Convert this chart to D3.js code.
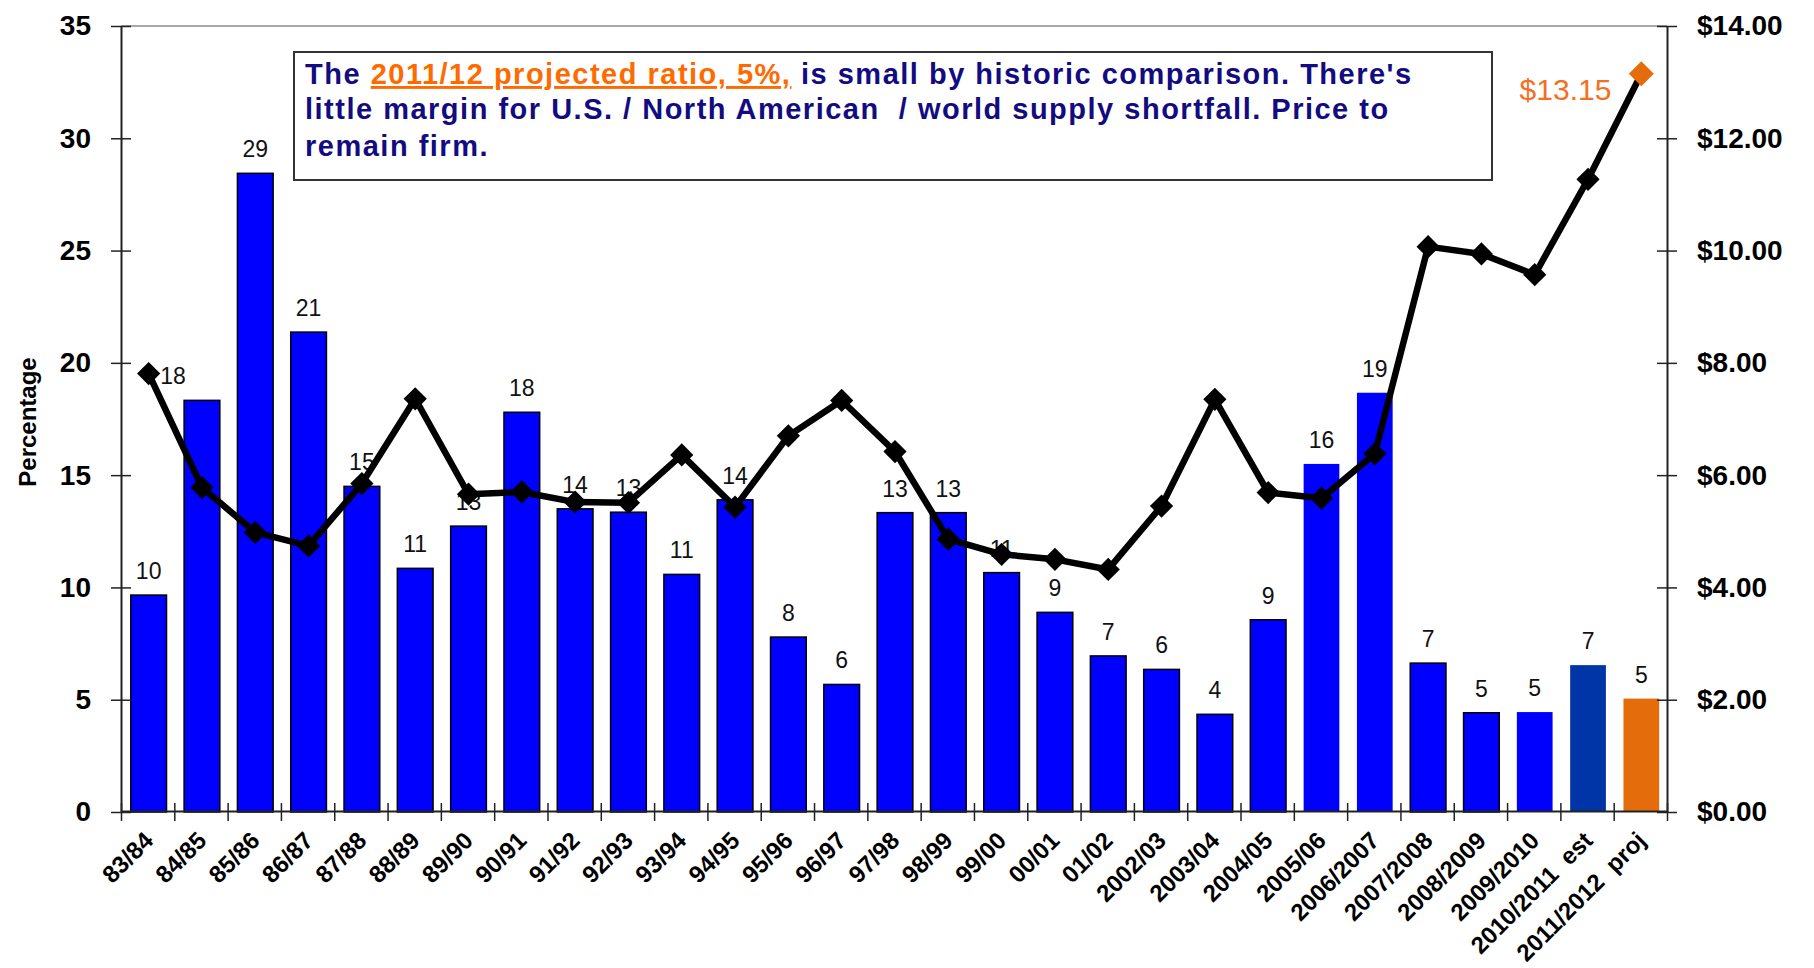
<!DOCTYPE html>
<html lang="en">
<head>
<meta charset="UTF-8">
<title>Stocks-to-use ratio and price</title>
<script src="https://d3js.org/d3.v7.min.js"></script>
<style>
  body { margin: 0; background: #fff; }
  svg { display: block; font-family: "Liberation Sans", Arial, sans-serif; }
</style>
</head>
<body>
<div id="chart"></div>
<script>
// season labels along the bottom
const categories = ["83/84", "84/85", "85/86", "86/87", "87/88", "88/89", "89/90", "90/91",
  "91/92", "92/93", "93/94", "94/95", "95/96", "96/97", "97/98", "98/99", "99/00", "00/01",
  "01/02", "2002/03", "2003/04", "2004/05", "2005/06", "2006/2007", "2007/2008", "2008/2009",
  "2009/2010", "2010/2011  est", "2011/2012  proj"];

// ratio bars (left axis, percent) and their printed labels
const ratio = [9.66, 18.33, 28.44, 21.37, 14.5, 10.85, 12.73, 17.8, 13.5, 13.35, 10.58, 13.9,
  7.79, 5.68, 13.33, 13.33, 10.66, 8.89, 6.95, 6.35, 4.35, 8.56, 15.5, 18.67, 6.63, 4.42,
  4.45, 6.54, 5.05];
const ratioLabels = ["10", "18", "29", "21", "15", "11", "13", "18", "14", "13", "11", "14",
  "8", "6", "13", "13", "11", "9", "7", "6", "4", "9", "16", "19", "7", "5", "5", "7", "5"];

// price line (right axis, $)
const price = [7.81, 5.78, 4.98, 4.74, 5.85, 7.36, 5.66, 5.70, 5.52, 5.51, 6.36, 5.43,
  6.70, 7.33, 6.42, 4.86, 4.59, 4.50, 4.32, 5.45, 7.35, 5.69, 5.59, 6.38, 10.07, 9.94,
  9.57, 11.27, 13.15];

// kind of season: actual / estimate / projection
const seasonKind = ["actual", "actual", "actual", "actual", "actual", "actual", "actual",
  "actual", "actual", "actual", "actual", "actual", "actual", "actual", "actual", "actual",
  "actual", "actual", "actual", "actual", "actual", "actual", "actual", "actual", "actual",
  "actual", "actual", "est", "proj"];

const leftTicks = [0, 5, 10, 15, 20, 25, 30, 35];
const rightTicks = [0, 2, 4, 6, 8, 10, 12, 14];

const noteLines = [
  [["The ", false], ["2011/12 projected ratio, 5%,", true], [" is small by historic comparison. There's", false]],
  [["little margin for U.S. / North American  / world supply shortfall. Price to", false]],
  [["remain firm.", false]]
];

// ---- layout
const width = 1814, height = 968;
const plotLeft = 121, plotRight = 1667, plotTop = 26, plotBottom = 812;

const svg = d3.select("#chart").append("svg")
  .attr("width", width)
  .attr("height", height);

const x = d3.scaleBand().domain(categories).range([plotLeft, plotRight])
  .paddingInner(0.33).paddingOuter(0.165);
const slots = d3.scaleLinear().domain([0, categories.length]).range([plotLeft, plotRight]);
const y = d3.scaleLinear().domain([0, 35]).range([plotBottom, plotTop]);
const yPrice = d3.scaleLinear().domain([0, 14]).range([plotBottom, plotTop]);

const kindColor = d3.scaleOrdinal()
  .domain(["actual", "est", "proj"])
  .range(["#0000ff", "#0035a8", "#e46c0a"]);
// these bars were drawn without a black edge
const noOutline = new Set(["2005/06", "2006/2007", "2009/2010", "2010/2011  est", "2011/2012  proj"]);

// top border of plot area
svg.append("line")
  .attr("x1", plotLeft).attr("x2", plotRight)
  .attr("y1", plotTop).attr("y2", plotTop)
  .attr("stroke", "#8a8a8a").attr("stroke-width", 1.5);

// bars
svg.append("g").selectAll("rect")
  .data(categories)
  .join("rect")
    .attr("x", d => x(d) + 1)
    .attr("y", (d, i) => y(ratio[i]))
    .attr("width", x.bandwidth())
    .attr("height", (d, i) => plotBottom - y(ratio[i]))
    .attr("fill", (d, i) => kindColor(seasonKind[i]))
    .attr("stroke", d => noOutline.has(d) ? "none" : "#000")
    .attr("stroke-width", 1.5);

// bar value labels
svg.append("g").selectAll("text")
  .data(categories)
  .join("text")
    .attr("x", (d, i) => x(d) + 1 + x.bandwidth() / 2 + (i === 1 ? -29 : 0))
    .attr("y", (d, i) => y(ratio[i]) - 16)
    .attr("text-anchor", "middle")
    .attr("font-size", 23)
    .attr("fill", "#111")
    .text((d, i) => ratioLabels[i]);

// left axis
const gLeft = svg.append("g")
  .attr("transform", `translate(${plotLeft},0)`)
  .call(d3.axisLeft(y).tickValues(leftTicks).tickSize(10).tickSizeOuter(0).tickPadding(20));
gLeft.select(".domain").attr("stroke", "#222").attr("stroke-width", 2);
gLeft.selectAll(".tick line").attr("x1", 10).attr("x2", -10).attr("stroke", "#222").attr("stroke-width", 1.5);
gLeft.selectAll(".tick text").attr("font-size", 28).attr("font-weight", "bold")
  .attr("font-family", "'Liberation Sans', Arial, sans-serif").attr("fill", "#000");

// right axis
const gRight = svg.append("g")
  .attr("transform", `translate(${plotRight},0)`)
  .call(d3.axisRight(yPrice).tickValues(rightTicks).tickSize(10).tickSizeOuter(0).tickPadding(20)
    .tickFormat(d => "$" + d3.format(".2f")(d)));
gRight.select(".domain").attr("stroke", "#222").attr("stroke-width", 2);
gRight.selectAll(".tick line").attr("x1", -10).attr("x2", 10).attr("stroke", "#222").attr("stroke-width", 1.5);
gRight.selectAll(".tick text").attr("font-size", 28).attr("font-weight", "bold")
  .attr("font-family", "'Liberation Sans', Arial, sans-serif").attr("fill", "#000");

// bottom axis: ticks sit between the seasons
const gBottom = svg.append("g")
  .attr("transform", `translate(0,${plotBottom - 1})`)
  .call(d3.axisBottom(slots).tickValues(d3.range(categories.length + 1)).tickSize(10)
    .tickSizeOuter(0).tickFormat(""));
gBottom.select(".domain").attr("stroke", "#222").attr("stroke-width", 2);
gBottom.selectAll(".tick line").attr("y1", -8).attr("y2", 10).attr("stroke", "#222").attr("stroke-width", 1.5);

// season labels, rotated
svg.append("g").selectAll("text")
  .data(categories)
  .join("text")
    .attr("transform", d => `translate(${x(d) + x.bandwidth() / 2 + 7},${plotBottom + 30}) rotate(-45)`)
    .attr("text-anchor", "end")
    .attr("font-size", 24)
    .attr("font-weight", "bold")
    .style("white-space", "pre")
    .text(d => d);

// y axis title
svg.append("text")
  .attr("transform", `translate(36,422) rotate(-90)`)
  .attr("text-anchor", "middle")
  .attr("font-size", 24)
  .attr("font-weight", "bold")
  .text("Percentage");

// price line
const cx = d => x(d) + 1 + x.bandwidth() / 2;
svg.append("path")
  .datum(categories)
  .attr("fill", "none")
  .attr("stroke", "#000")
  .attr("stroke-width", 6.5)
  .attr("stroke-linejoin", "round")
  .attr("d", d3.line().x(cx).y((d, i) => yPrice(price[i])));

const last = categories.length - 1;
svg.append("g").selectAll("path")
  .data(categories)
  .join("path")
    .attr("d", (d, i) => d3.symbol(d3.symbolSquare).size(i === last ? 310 : 270)())
    .attr("transform", (d, i) => `translate(${cx(d)},${yPrice(price[i])}) rotate(45)`)
    .attr("fill", (d, i) => i === last ? "#e46c0a" : "#000");

// last price label
svg.append("text")
  .attr("x", cx(categories[last]) - 30)
  .attr("y", yPrice(price[last]) + 26)
  .attr("text-anchor", "end")
  .attr("font-size", 30)
  .attr("fill", "#f3701e")
  .text("$" + d3.format(".2f")(price[last]));

// note box
svg.append("rect")
  .attr("x", 294).attr("y", 52)
  .attr("width", 1198).attr("height", 128)
  .attr("fill", "#fff")
  .attr("stroke", "#333")
  .attr("stroke-width", 2);

const noteBaselines = [84, 119, 156];
const note = svg.append("g")
  .attr("font-size", 29)
  .attr("font-weight", "bold")
  .attr("letter-spacing", 1.5);
noteLines.forEach((parts, li) => {
  const t = note.append("text")
    .attr("x", 305)
    .attr("y", noteBaselines[li])
    .style("white-space", "pre");
  parts.forEach(([str, hi]) => {
    t.append("tspan")
      .attr("fill", hi ? "#ff6a00" : "#130c80")
      .style("text-decoration", hi ? "underline" : null)
      .text(str);
  });
});
</script>
</body>
</html>
